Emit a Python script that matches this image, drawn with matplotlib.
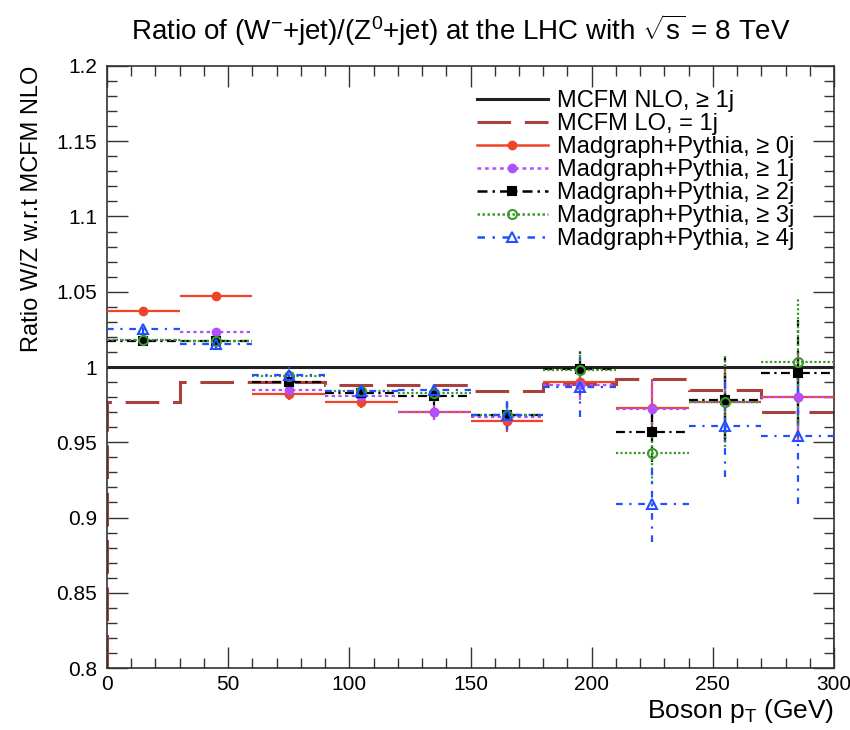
import numpy as np
import matplotlib
matplotlib.use('Agg')
import matplotlib.pyplot as plt
from matplotlib.lines import Line2D
from matplotlib.ticker import MultipleLocator, FuncFormatter

plt.rcParams['font.family'] = ['Liberation Sans', 'DejaVu Sans']
plt.rcParams['mathtext.fontset'] = 'custom'
plt.rcParams['mathtext.rm'] = 'Liberation Sans'
plt.rcParams['mathtext.it'] = 'Liberation Sans:italic'

# ========================================
# Data
# ========================================
bin_edges = [0, 30, 60, 90, 120, 150, 180, 210, 240, 270, 300]
bin_centers = [15, 45, 75, 105, 135, 165, 195, 225, 255, 285]

mcfm_lo = [0.977, 0.990, 0.990, 0.988, 0.988, 0.984, 0.989, 0.992, 0.985, 0.970]

mg_0j = [1.037, 1.047, 0.982, 0.977, 0.970, 0.964, 0.990, 0.973, 0.977, 0.980]
mg_1j = [1.018, 1.023, 0.985, 0.981, 0.970, 0.967, 0.988, 0.972, 0.977, 0.980]
mg_2j = [1.017, 1.017, 0.990, 0.983, 0.981, 0.968, 0.999, 0.957, 0.978, 0.996]
mg_3j = [1.018, 1.017, 0.994, 0.984, 0.983, 0.968, 0.998, 0.943, 0.977, 1.003]
mg_4j = [1.025, 1.015, 0.995, 0.984, 0.985, 0.968, 0.987, 0.909, 0.961, 0.954]

err_0j = [0.002, 0.002, 0.004, 0.004, 0.005, 0.007, 0.010, 0.019, 0.025, 0.030]
err_1j = [0.002, 0.002, 0.004, 0.004, 0.005, 0.007, 0.010, 0.019, 0.025, 0.030]
err_2j = [0.002, 0.002, 0.004, 0.005, 0.006, 0.008, 0.012, 0.020, 0.028, 0.035]
err_3j = [0.002, 0.002, 0.004, 0.005, 0.006, 0.008, 0.012, 0.020, 0.030, 0.042]
err_4j = [0.003, 0.003, 0.005, 0.006, 0.007, 0.010, 0.020, 0.025, 0.034, 0.045]

bin_halfwidth = 15

labels = ['MCFM NLO, \u2265 1j', 'MCFM LO, = 1j',
          'Madgraph+Pythia, \u2265 0j', 'Madgraph+Pythia, \u2265 1j',
          'Madgraph+Pythia, \u2265 2j', 'Madgraph+Pythia, \u2265 3j',
          'Madgraph+Pythia, \u2265 4j']

# ========================================
# Plot
# ========================================
fig = plt.figure(figsize=(8.5, 7.3), dpi=100)
ax = fig.add_axes([0.1259, 0.0849, 0.8553, 0.8247])

lo_style = (0, (11, 4.5))
ax.axhline(1.0, color='#222222', lw=2.2, zorder=2)
ax.stairs(mcfm_lo, bin_edges, baseline=0.8, color='#a8403c', lw=2.2,
          linestyle=lo_style, zorder=2)

series = [
    (mg_0j, err_0j, '#f0432a', 'o', True, '-', 5.5),
    (mg_1j, err_1j, '#b050ff', 'o', True, (0, (1.5, 1.5)), 5.5),
    (mg_2j, err_2j, '#000000', 's', True, (0, (4, 2, 1, 2)), 5.5),
    (mg_3j, err_3j, '#3c9a2c', 'o', False, (0, (1, 1)), 6.5),
    (mg_4j, err_4j, '#2050ff', '^', False, (0, (3, 3, 1, 3)), 6.5),
]

handles = [Line2D([], [], color='#222222', lw=2.2),
           Line2D([], [], color='#a8403c', lw=2.2, linestyle=lo_style)]

for vals, errs, col, mk, filled, ls, ms in series:
    cont = ax.errorbar(bin_centers, vals, xerr=bin_halfwidth, yerr=errs,
                       fmt=mk, color=col, ms=ms, elinewidth=1.6, capsize=0,
                       mfc=col if filled else 'none', mec=col, mew=1.5,
                       zorder=3)
    for lc in cont[2]:
        lc.set_linestyle(ls)
    handles.append(Line2D([], [], color=col, lw=1.8, linestyle=ls, marker=mk,
                          ms=ms, mfc=col if filled else 'none', mec=col, mew=1.5))

ax.set_xlim(0, 300)
ax.set_ylim(0.8, 1.2)
ax.xaxis.set_major_locator(MultipleLocator(50))
ax.xaxis.set_minor_locator(MultipleLocator(10))
ax.yaxis.set_major_locator(MultipleLocator(0.05))
ax.yaxis.set_minor_locator(MultipleLocator(0.01))
ax.yaxis.set_major_formatter(FuncFormatter(lambda v, p: '%g' % round(v, 2)))
ax.tick_params(which='both', direction='in', top=True, right=True,
               labelsize=15, color='#333333')
ax.tick_params(which='major', length=15, width=1)
ax.tick_params(which='minor', length=7, width=1)
ax.tick_params(axis='x', pad=5)
ax.tick_params(axis='y', pad=7)
for s in ax.spines.values():
    s.set_linewidth(1.2)
    s.set_color('#333333')

ax.set_xlabel('Boson p$_{\\mathrm{T}}$ (GeV)', fontsize=19, ha='right', x=1.0,
              labelpad=2)
ax.set_ylabel('Ratio W/Z w.r.t MCFM NLO', fontsize=17, ha='right', y=1.0,
              labelpad=10)
fig.text(0.542, 0.958, 'Ratio of (W$^{-}$+jet)/(Z$^{0}$+jet) at the LHC with '
         '$\\sqrt{\\mathrm{s}}$ = 8 TeV', fontsize=20, ha='center', va='center')

ax.legend(handles, labels, loc='upper right', bbox_to_anchor=(0.975, 0.995),
          frameon=False, fontsize=17, handlelength=3.0, labelspacing=0.04,
          handletextpad=0.4)

plt.savefig('out.png', dpi=100)
